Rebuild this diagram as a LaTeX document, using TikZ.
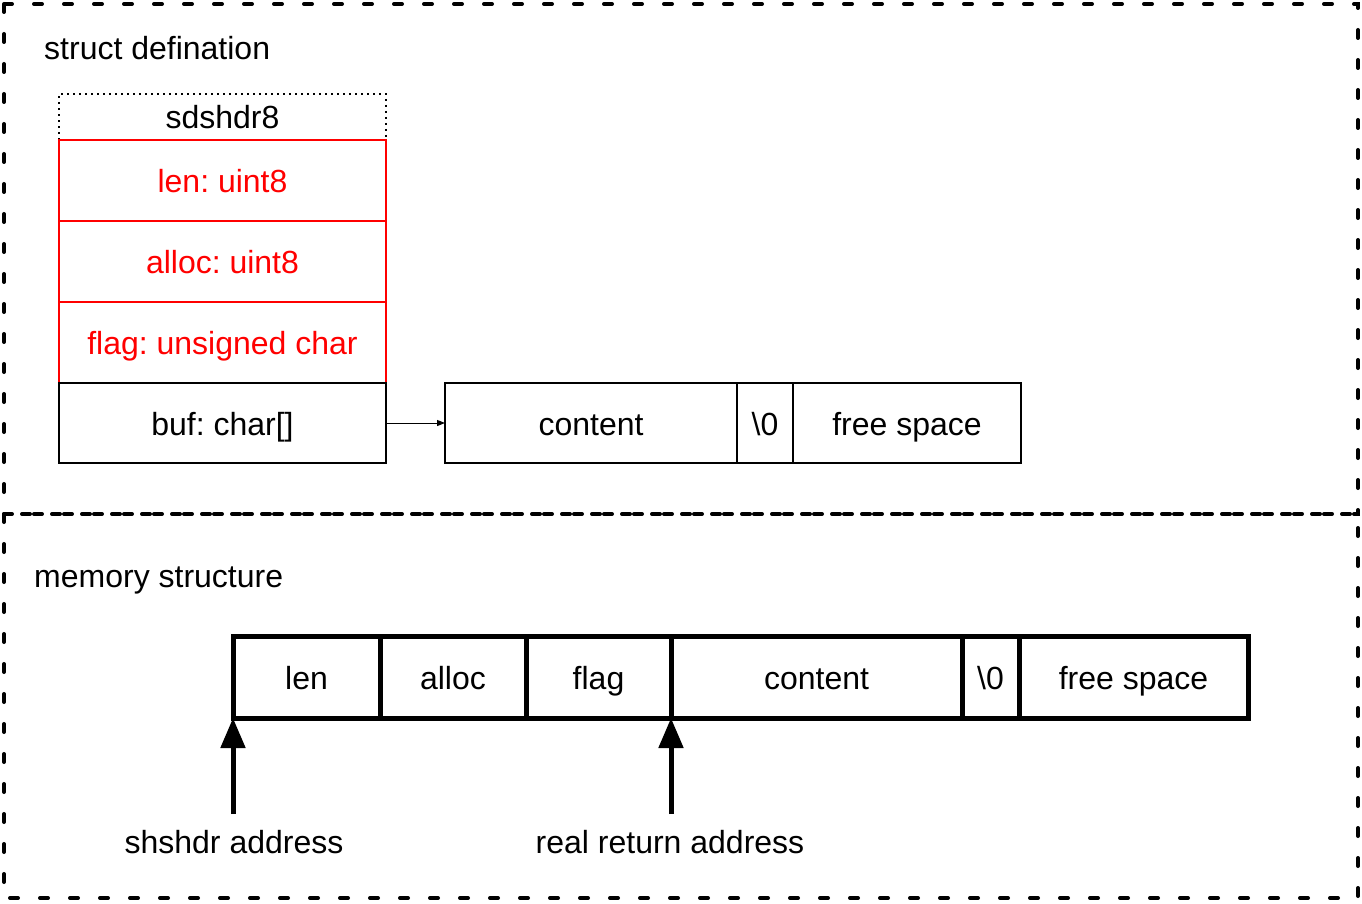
\documentclass[tikz,border=0pt]{standalone}
\usepackage{fontspec}
\setmainfont{Liberation Sans}
\usetikzlibrary{arrows.meta}
\frenchspacing
\begin{document}
\begin{tikzpicture}[x=1pt,y=-1pt,
  every node/.style={font=\fontsize{32}{38}\selectfont, text height=24pt, text depth=0pt},
  region/.style={line width=4pt, dash pattern=on 8pt off 22pt, line cap=round},
  redcell/.style={draw=red, line width=2pt, text=red, inner sep=0pt, outer sep=0pt, anchor=north west},
  blkcell/.style={draw=black, line width=2pt, inner sep=0pt, outer sep=0pt, anchor=north west},
  memcell/.style={draw=black, line width=5pt, inner sep=0pt, outer sep=0pt, anchor=north west, minimum height=82pt},
  ptr/.style={line width=5pt, -{Triangle[width=24pt,length=30pt]}},
  label/.style={inner sep=0pt}
]
\useasboundingbox (0,0) rectangle (1362,904);
% regions
\draw[region] (4,4) rectangle (1358,514);
\draw[region] (4,514) rectangle (1358,898);
\node[label, anchor=west] (t1) at (44,48) {struct defination};
\node[label, anchor=west] (t2) at (34,575) {memory structure};
% struct definition
\node[inner sep=0pt, outer sep=0pt, anchor=north west, minimum width=327pt, minimum height=46pt] (hdr) at (59,94) {sdshdr8};
\draw[line width=2pt, dash pattern=on 2pt off 4pt] (hdr.south west) -- (hdr.north west) -- (hdr.north east) -- (hdr.south east);
\node[redcell, minimum width=327pt, minimum height=81pt] (slen) at (59,140) {len: uint8};
\node[redcell, minimum width=327pt, minimum height=81pt] (salloc) at (59,221) {alloc: uint8};
\node[redcell, minimum width=327pt, minimum height=81pt] (sflag) at (59,302) {flag: unsigned char};
\node[blkcell, minimum width=327pt, minimum height=80pt] (sbuf) at (59,383) {buf: char[]};
\node[blkcell, minimum width=292pt, minimum height=80pt] (scont) at (445,383) {content};
\node[blkcell, minimum width=56pt, minimum height=80pt] (snul) at (737,383) {\textbackslash 0};
\node[blkcell, minimum width=228pt, minimum height=80pt] (sfree) at (793,383) {free space};
\draw[line width=1pt, -{Triangle[width=6pt,length=8pt]}] (sbuf.east) -- (scont.west);
% memory structure
\node[memcell, minimum width=147pt] (mlen) at (233,636) {len};
\node[memcell, minimum width=146pt] (malloc) at (380,636) {alloc};
\node[memcell, minimum width=145pt] (mflag) at (526,636) {flag};
\node[memcell, minimum width=291pt] (mcont) at (671,636) {content};
\node[memcell, minimum width=57pt] (mnul) at (962,636) {\textbackslash 0};
\node[memcell, minimum width=229pt] (mfree) at (1019,636) {free space};
\coordinate (p1) at (233,814);
\coordinate (p2) at (671,814);
\draw[ptr] (p1) -- (mlen.south west);
\draw[ptr] (p2) -- (mcont.south west);
\node[label] (l1) at (234,841) {shshdr address};
\node[label] (l2) at (670,841) {real return address};
\end{tikzpicture}
\end{document}
